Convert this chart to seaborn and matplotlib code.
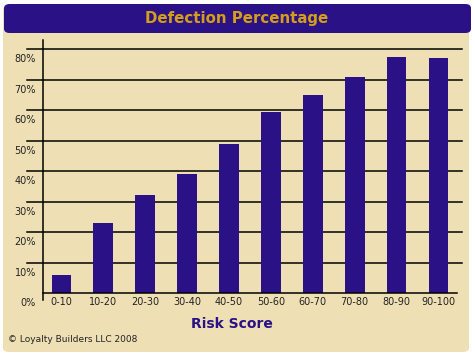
import matplotlib
matplotlib.use("Agg")
import matplotlib.pyplot as plt
from matplotlib.patches import FancyBboxPatch
from matplotlib.transforms import ScaledTranslation, blended_transform_factory
import seaborn as sns
import pandas as pd

categories = ["0-10", "10-20", "20-30", "30-40", "40-50", "50-60",
              "60-70", "70-80", "80-90", "90-100"]
defection = [6, 23, 32, 39, 49, 59.5, 65, 71, 77.5, 77]
ytick_values = [0, 10, 20, 30, 40, 50, 60, 70, 80]
ytick_labels = ["0%", "10%", "20%", "30%", "40%", "50%", "60%", "70%", "80%"]
title = "Defection Percentage"
xlabel = "Risk Score"
footer = "\u00a9 Loyalty Builders LLC 2008"

TAN = "#EEE0B4"
INDIGO = "#2A1185"
GOLD = "#D49E1C"

W, H = 475, 357
fig = plt.figure(figsize=(W / 100, H / 100), dpi=100)
fig.patch.set_facecolor("white")

# panel background
panel = FancyBboxPatch((3 / W, 1 - 352 / H), (469 - 3) / W, (352 - 6) / H,
                       boxstyle="round,pad=0,rounding_size=0.012",
                       transform=fig.transFigure, facecolor=TAN,
                       edgecolor="none", zorder=-2)
fig.patches.append(panel)
banner = FancyBboxPatch((4 / W, 1 - 33 / H), (471 - 4) / W, (33 - 4) / H,
                        boxstyle="round,pad=0,rounding_size=0.012",
                        transform=fig.transFigure, facecolor=INDIGO,
                        edgecolor="none", zorder=-1)
fig.patches.append(banner)
fig.text(237 / W, 1 - 18 / H, title, ha="center", va="center",
         color=GOLD, fontsize=10.8, fontweight="bold", family="DejaVu Sans")

ax = fig.add_axes([43 / W, 1 - 293 / H, (462 - 43) / W, (293 - 40) / H])
ax.set_zorder(5)
ax.set_facecolor(TAN)
ax.patch.set_alpha(0)

df = pd.DataFrame({"score": categories, "pct": defection})
sns.barplot(data=df, x="score", y="pct", color=INDIGO, saturation=1,
            width=0.47, ax=ax, zorder=3)

ax.set_xlim(-0.44, 9.56)
ax.set_ylim(0, 83)

# gridlines extending left of the axis
tr = blended_transform_factory(ax.transAxes, ax.transData)
for v in ytick_values[1:]:
    ax.plot([-0.038, 1.0], [v, v], color="black", lw=1.1, transform=tr,
            clip_on=False, zorder=2)
ax.plot([0, 0.988], [0, 0], color="black", lw=1.1, transform=tr,
        clip_on=False, zorder=4)
ax.plot([0, 0], [-2.3, 83], color="black", lw=1.1, transform=tr,
        clip_on=False, zorder=4)

for s in ax.spines.values():
    s.set_visible(False)

ax.set_yticks(ytick_values)
ax.set_yticklabels(ytick_labels)
ax.tick_params(axis="y", length=0, pad=5, labelsize=7, labelcolor="#222222")
off = ScaledTranslation(0, -9 / 100, fig.dpi_scale_trans)
for lab in ax.get_yticklabels():
    lab.set_transform(lab.get_transform() + off)

ax.tick_params(axis="x", length=0, pad=3, labelsize=7, labelcolor="#222222")
ax.set_xlabel("")
ax.set_ylabel("")

fig.text(232 / W, 1 - 324 / H, xlabel, ha="center", va="center",
         color=INDIGO, fontsize=10, fontweight="bold")
fig.text(8 / W, 1 - 339 / H, footer, ha="left", va="center",
         color="#222222", fontsize=6.5)

fig.savefig("out.png", dpi=100, facecolor="white")
